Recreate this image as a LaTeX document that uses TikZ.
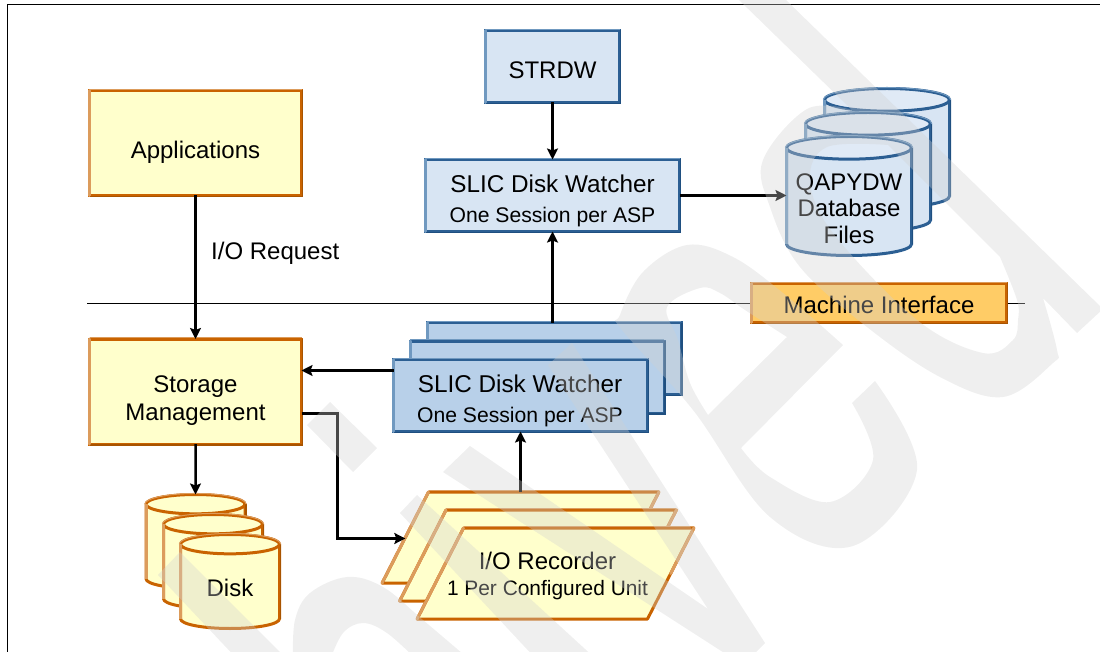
\documentclass[tikz,border=0pt]{standalone}
\usepackage{fontspec}
\setmainfont{Liberation Sans}
\usetikzlibrary{arrows.meta,shapes.geometric}

\definecolor{yellowfill}{HTML}{FFFFCC}
\definecolor{orangeedge}{HTML}{C96300}
\definecolor{orangelight}{HTML}{DC9C5C}
\definecolor{orangedark}{HTML}{A85400}
\definecolor{amberfill}{HTML}{FFCC66}
\definecolor{bluetop}{HTML}{E0EAF6}
\definecolor{bluepale}{HTML}{D8E5F3}
\definecolor{bluefill}{HTML}{B8D0E9}
\definecolor{blueedge}{HTML}{2C5F93}
\definecolor{bluelight}{HTML}{7099C0}
\definecolor{bluedark}{HTML}{1F4F80}

\newcommand{\bigtext}{\fontsize{24}{29}\selectfont}
\newcommand{\headtext}{\fontsize{24.3}{29}\selectfont}
\newcommand{\subtext}{\fontsize{21.15}{29}\selectfont}
\newcommand{\smalltext}{\fontsize{20.9}{27}\selectfont}

% lighter left and top edge, darker right and bottom edge
\newcommand{\bevelbox}[3]{
    \draw[#3,line width=1.4pt] ([xshift=.9pt]#1.north east) -- ([xshift=.9pt,yshift=-.9pt]#1.south east) -- ([yshift=-.9pt]#1.south west);
    \draw[#2,line width=3pt,line cap=round] (#1.south west) -- (#1.north west);
    \draw[#2,line width=1pt] ([yshift=1.2pt]#1.north west) -- ([yshift=1.2pt]#1.north east);
}
\newcommand{\bevelrecorder}[1]{
    \draw[orangelight,line width=3pt,line cap=round] (#1.bottom left corner) -- (#1.top left corner);
    \draw[orangelight,line width=1pt] ([yshift=1.2pt]#1.top left corner) -- ([yshift=1.2pt]#1.top right corner);
    \draw[orangelight,line width=3pt,line cap=round] (#1.top right corner) -- (#1.right side);
}
% #2 and #3 are the radii of the rim
\newcommand{\beveldrum}[5]{
    \draw[#5,line width=1.4pt] ([xshift=.9pt]#1.after top) -- ([xshift=.9pt]#1.before bottom);
    \draw[#4,line width=3pt] (#1.before top) -- (#1.after bottom);
    \draw[#4,line width=1pt] ([xshift=-1.2pt]#1.before top) arc[start angle=180,end angle=0,x radius=#2pt+1.2pt,y radius=#3pt+1.2pt];
}

\tikzset{
    >={Stealth[length=11pt,width=11pt,inset=2pt]},
    box/.style={rectangle,line width=3pt,outer sep=0pt},
    yellowbox/.style={box,draw=orangeedge,fill=yellowfill,minimum width=212pt,minimum height=105pt},
    blueboxpale/.style={box,draw=blueedge,fill=bluepale},
    blueboxdark/.style={box,draw=blueedge,fill=bluefill,minimum width=254pt,minimum height=72pt},
    recorderbox/.style={trapezium,trapezium left angle=63,trapezium right angle=117,inner xsep=92pt,inner ysep=45.5pt,
        draw=orangeedge,fill=yellowfill,line width=3pt,outer sep=0pt,line join=round},
    diskdrum/.style={cylinder,shape border rotate=90,aspect=2.9,anchor=shape center,draw=orangeedge,fill=yellowfill,line width=3pt,outer sep=0pt,minimum width=99pt,minimum height=94pt},
    filedrum/.style={cylinder,shape border rotate=90,aspect=3.4,anchor=shape center,draw=blueedge,cylinder uses custom fill,cylinder end fill=bluetop,cylinder body fill=bluepale,line width=3pt,outer sep=0pt,minimum width=125pt,minimum height=119pt},
    caption/.style={font=\bigtext,align=center,inner sep=0pt},
    link/.style={->,line width=2.5pt},
    watermark/.style={fill=black!18,fill opacity=0.34,even odd rule}
}

\begin{document}
\begin{tikzpicture}[x=1pt,y=-1pt]
    \useasboundingbox (0,0) rectangle (1100,652);

    % Frame and interface line
    \draw[line width=1.3pt] (1100,4.5) -- (7.5,4.5) -- (7.5,652);
    \coordinate (lineleft) at (87,303);
    \coordinate (lineright) at (1025,303);
    \draw[line width=1pt] (lineleft) -- (lineright);

    % Boxes above the line
    \node[yellowbox] (applications) at (195.5,143) {};
    \bevelbox{applications}{orangelight}{orangedark}
    \node[caption] (applicationstext) at (195.5,152) {Applications};
    \node[blueboxpale,minimum width=134pt,minimum height=72pt] (strdw) at (552.5,66.5) {};
    \bevelbox{strdw}{bluelight}{bluedark}
    \node[caption] (strdwtext) at (552.5,70.5) {STRDW};
    \node[blueboxpale,minimum width=254pt,minimum height=72pt] (watcher) at (552.5,195.5) {};
    \bevelbox{watcher}{bluelight}{bluedark}
    \node[caption] (watchertext) at (552.5,200.5) {{\headtext SLIC Disk Watcher}\\[1pt]{\subtext One Session per ASP}};
    \node[box,draw=orangeedge,fill=amberfill,minimum width=255pt,minimum height=39pt] (machine) at (879,303) {};
    \bevelbox{machine}{orangelight}{orangedark}
    \node[caption] (machinetext) at (879,305) {Machine Interface};

    % Database files
    \foreach \i/\x/\y in {3/887/148,2/868/172,1/849/196}
    {
        \node[filedrum] (file\i) at (\x,\y) {};
        \beveldrum{file\i}{62.5}{11}{bluelight}{bluedark}
    }
    \node[caption] (filetext) at (849,208.5) {QAPYDW\\[-2.5pt]Database\\[-2.5pt]Files};

    % Lower stacks
    \node[yellowbox] (storage) at (195.5,391.5) {};
    \bevelbox{storage}{orangelight}{orangedark}
    \node[caption] (storagetext) at (195.5,401) {Storage\\[-1pt]Management};
    \foreach \i/\x/\y in {3/554/358.5,2/537/377,1/520.5/395.5}
    {
        \node[blueboxdark] (session\i) at (\x,\y) {};
        \bevelbox{session\i}{bluelight}{bluedark}
    }
    \node[caption] (sessiontext) at (520,400.5) {{\headtext SLIC Disk Watcher}\\[1pt]{\subtext One Session per ASP}};

    \foreach \i/\x/\y in {3/195.5/541.5,2/213/561.5,1/230/581.5}
    {
        \node[diskdrum] (disk\i) at (\x,\y) {};
        \beveldrum{disk\i}{49.5}{9.5}{orangelight}{orangedark}
    }
    \node[caption] (disktext) at (230,588) {Disk};

    \foreach \i/\x/\y in {3/520.5/537.5,2/538/555.5,1/555.5/573.5}
    {
        \node[recorderbox] (recorder\i) at (\x,\y) {};
        \bevelrecorder{recorder\i}
    }
    \node[caption] (recordertext) at (547.5,576) {I/O Recorder\\[-3pt]{\smalltext 1 Per Configured Unit}};

    % Connectors
    \draw[link] (applications) -- (storage);
    \node[caption,anchor=west] (request) at (211,253) {I/O Request};
    \draw[link] (strdw) -- (watcher);
    \draw[link] (watcher) -- (watcher -| file1.west);
    \draw[link] (session3.north -| watcher) -- (watcher.south);
    \draw[link] (session1.west |- 0,370.5) -- (storage.east |- 0,370.5);
    \draw[link] (storage.east |- 0,413.5) -| (337.5,538.5) -- (recorder3.left side |- 0,538.5);
    \draw[link] (recorder3.north -| session1) -- (session1);
    \draw[link] (storage) -- (disk3.north);

    % Watermark over everything
    \begin{scope}
        \clip (0,0) rectangle (1100,652);
        % stem and bowl, upper right
        \path[watermark] (739,0) -- (786,0) -- (1103,309) -- (1077,333) -- (1043,298)
            -- plot[smooth,tension=.6] coordinates {(1043,298) (1057,350) (1053,363) (1003,397) (940,377) (867,327) (800,267) (770,207) (763,160) (807,109) (852,110)} -- cycle
            (888,145) -- (1000,257)
            -- plot[smooth,tension=.6] coordinates {(1000,257) (1017,300) (1018,320) (1013,340) (983,353) (917,320) (833,233) (810,180) (827,147) (888,145)} -- cycle;
        % round letter in the middle
        \path[watermark] (875,381)
            -- plot[smooth,tension=.6] coordinates {(875,381) (917,470) (853,546) (770,517) (693,410) (622,330) (620,315) (643,272) (687,245) (733,257) (783,293) (843,345)}
            -- (741,448)
            -- plot[smooth,tension=.6] coordinates {(741,448) (770,477) (830,502) (873,460) (852,403)} -- cycle
            (787,337)
            -- plot[smooth,tension=.6] coordinates {(787,337) (745,310) (720,293) (700,288) (667,307) (678,340) (690,383) (708,415)} -- cycle;
        % slanted letter
        \path[watermark] (572,343) -- (765,643) -- (743,665) -- (443,472) -- (470,446) -- (708,609) -- (548,365) -- cycle;
        % short strokes, lower left
        \path[watermark] (330,402) -- (377,448) -- (353,472) -- (307,425) -- cycle;
        \path[watermark] (417,495) -- (400,513) -- (537,660) -- (597,660) -- cycle;
        \path[watermark] (158,575) -- (180,552) -- (290,662) -- (240,662) -- cycle;
        \path[watermark] (293,660)
            -- plot[smooth,tension=.6] coordinates {(293,660) (295,620) (310,593) (347,577) (383,587) (423,620) (470,660)}
            -- (417,660)
            -- plot[smooth,tension=.6] coordinates {(417,660) (387,633) (363,623) (343,633) (330,660)} -- cycle;
    \end{scope}
\end{tikzpicture}
\end{document}
